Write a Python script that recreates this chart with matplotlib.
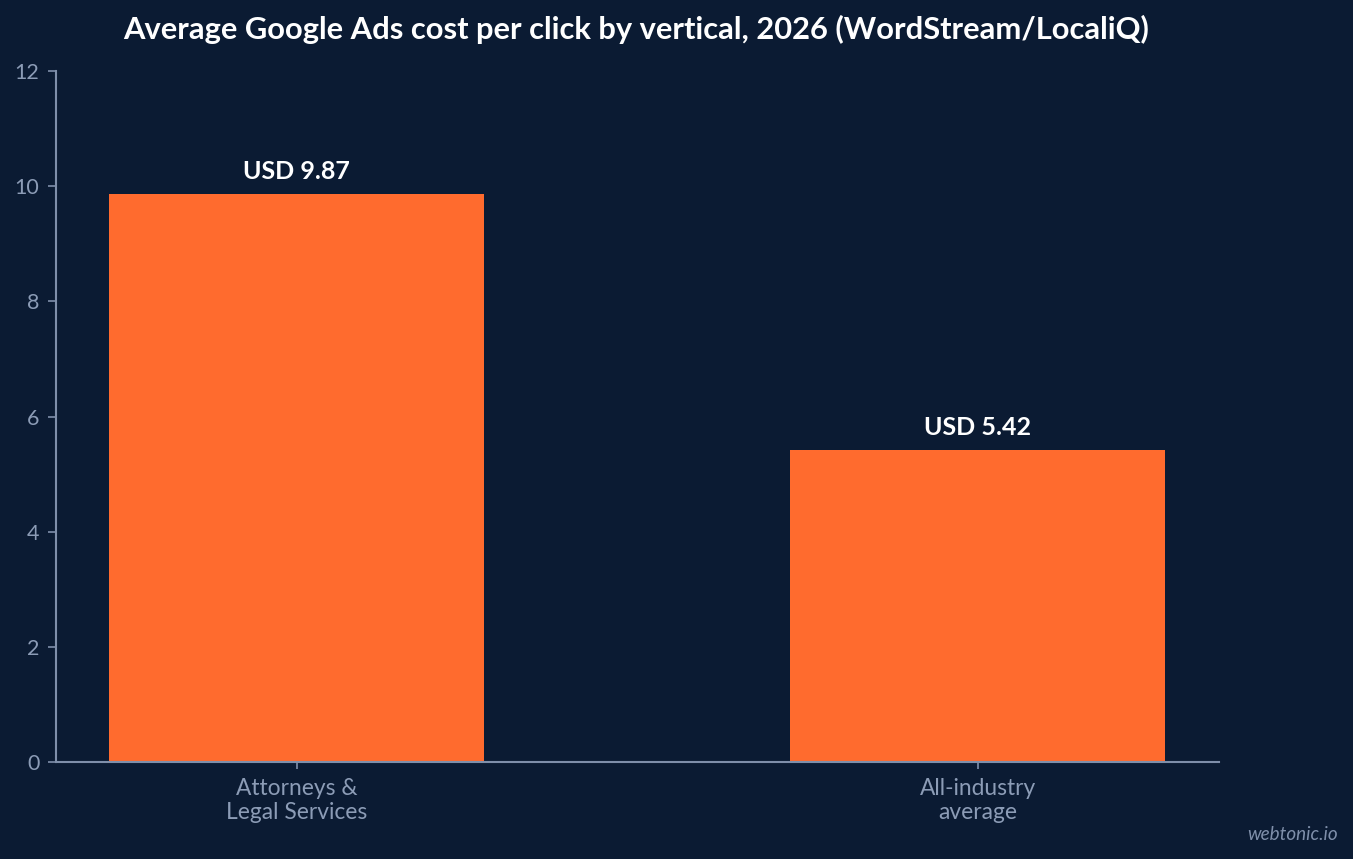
import matplotlib.pyplot as plt

plt.rcParams['font.family'] = ['Lato', 'DejaVu Sans']

categories = ['Attorneys &\nLegal Services', 'All-industry\naverage']
cpc = [9.87, 5.42]
value_labels = ['USD 9.87', 'USD 5.42']

bg = '#0b1b33'
bar_color = '#ff6b2e'
axis_color = '#7f8faa'
tick_text = '#8c9cb6'

fig = plt.figure(figsize=(13.53, 8.59), dpi=100, facecolor=bg)
ax = fig.add_axes([0.0414, 0.1129, 0.8596, 0.8044], facecolor=bg)

x = range(len(categories))
bars = ax.bar(x, cpc, width=0.55, color=bar_color, zorder=2)

for b, lab in zip(bars, value_labels):
    ax.annotate(lab, (b.get_x() + b.get_width() / 2, b.get_height()),
                xytext=(0, 8), textcoords='offset points',
                ha='center', va='bottom', color='white',
                fontsize=18, fontweight='bold')

ax.set_xlim(-0.353, 1.354)
ax.set_ylim(0, 12)
ax.set_yticks([0, 2, 4, 6, 8, 10, 12])
ax.set_xticks(list(x))
ax.set_xticklabels(categories, fontsize=16.4, color=tick_text, linespacing=1.15)
ax.tick_params(axis='y', labelsize=15.5, labelcolor=tick_text, color=axis_color,
               length=6, width=1.2, pad=6)
ax.tick_params(axis='x', color=axis_color, length=5, width=1.2, pad=6.5)

for s in ['top', 'right']:
    ax.spines[s].set_visible(False)
for s in ['left', 'bottom']:
    ax.spines[s].set_color(axis_color)
    ax.spines[s].set_linewidth(1.5)

fig.text(0.4705, 0.966, 'Average Google Ads cost per click by vertical, 2026 (WordStream/LocaliQ)',
         ha='center', va='center', color='white', fontsize=22.2, fontweight='bold')
fig.text(0.989, 0.028, 'webtonic.io', ha='right', va='center', color='#7f8faa',
         fontsize=13.6, style='italic')

fig.savefig('out.png', dpi=100, facecolor=bg)
